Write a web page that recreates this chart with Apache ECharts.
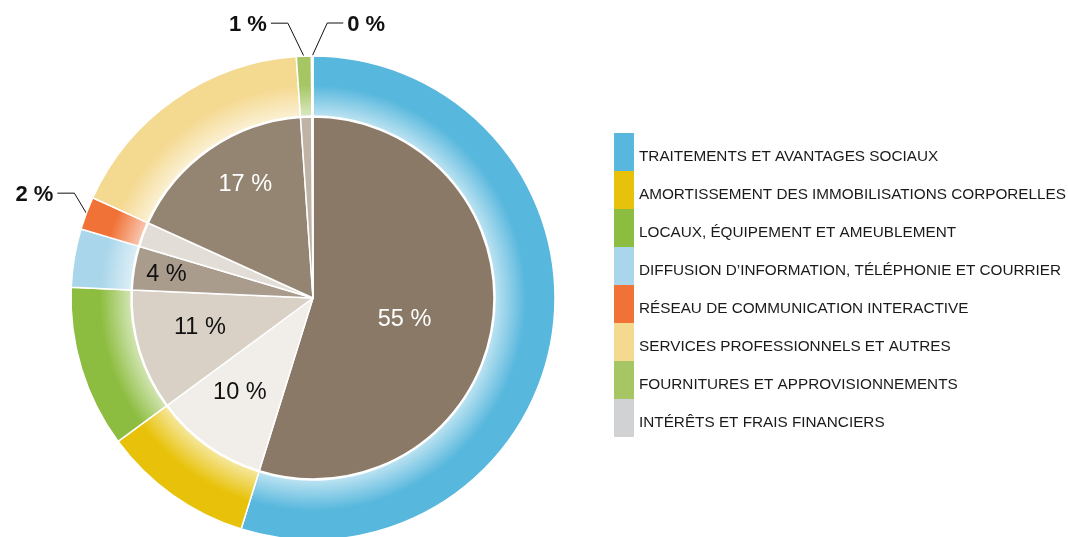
<!DOCTYPE html>
<html>
<head>
<meta charset="utf-8">
<script src="https://cdn.jsdelivr.net/npm/echarts@6/dist/echarts.min.js"></script>
<style>
  html, body { margin: 0; padding: 0; background: #fff; }
  #chart { width: 1068px; height: 537px; }
</style>
</head>
<body>
<div id="chart"></div>
<script>
// categories (legend order = clockwise order from the top)
const categories = [
  'TRAITEMENTS ET AVANTAGES SOCIAUX',
  'AMORTISSEMENT DES IMMOBILISATIONS CORPORELLES',
  'LOCAUX, ÉQUIPEMENT ET AMEUBLEMENT',
  'DIFFUSION D\u2019INFORMATION, TÉLÉPHONIE ET COURRIER',
  'RÉSEAU DE COMMUNICATION INTERACTIVE',
  'SERVICES PROFESSIONNELS ET AUTRES',
  'FOURNITURES ET APPROVISIONNEMENTS',
  'INTÉRÊTS ET FRAIS FINANCIERS'
];
// share of expenses, %
const shares = [54.8, 10.1, 10.8, 3.9, 2.2, 17.1, 1.0, 0.1];

// styles
const ringColors = ['#57b7dd', '#e8c20a', '#8dbd40', '#a9d6ea', '#f07236', '#f4d991', '#a5c663', '#d1d2d4'];
const pieColors = ['#8a7967', '#f1eeea', '#d9d0c6', '#aa9c8d', '#e3ddd7', '#948572', '#bfb3a5', '#cfc8c0'];
const pieLabelColors = ['#fff', '#111', '#111', '#111', '#111', '#fff', '#111', '#111'];
// inner label placement: fraction of radius, and turn (deg) from slice middle
const pieLabelRadius = [0.52, 0.66, 0.645, 0.82, 0.5, 0.73, 0.5, 0.5];
const pieLabelTurn = [4.8, 2.3, 2.5, -0.6, 0, 3.9, 0, 0];

const CX = 313, CY = 298, R_IN = 181, R_OUT = 242;
const FONT = '"Liberation Sans", Arial, Helvetica, sans-serif';

function mixWhite(hex, t) {
  const n = parseInt(hex.slice(1), 16);
  const r = (n >> 16) & 255, g = (n >> 8) & 255, b = n & 255;
  const m = c => Math.round(c + (255 - c) * t);
  return 'rgb(' + m(r) + ',' + m(g) + ',' + m(b) + ')';
}

function ringGradient(c) {
  return {
    type: 'radial', x: CX, y: CY, r: R_OUT, global: true,
    colorStops: [
      { offset: 0, color: mixWhite(c, 0.62) },
      { offset: R_IN / R_OUT, color: mixWhite(c, 0.62) },
      { offset: 0.88, color: c },
      { offset: 1, color: c }
    ]
  };
}

const pctText = v => Math.round(v) + ' %';

// leader line shapes for the small outer labels: [dx1, dy1, dx2]
const leaders = {
  4: [-12, -20, -17],
  6: [-16, -33, -17],
  7: [15, -33, 16]
};

const chart = echarts.init(document.getElementById('chart'));

chart.setOption({
  animation: false,
  legend: {
    orient: 'vertical',
    left: 614,
    top: 133,
    padding: 0,
    itemWidth: 20,
    itemHeight: 38,
    itemGap: 0,
    icon: 'rect',
    selectedMode: false,
    itemStyle: { borderWidth: 0 },
    formatter: '{t|{name}}',
    textStyle: {
      fontFamily: FONT, fontSize: 15.3, color: '#1a1a1a',
      rich: { t: { fontFamily: FONT, fontSize: 15.3, color: '#1a1a1a', padding: [9, 0, 0, 0] } }
    },
    data: categories.map((name, i) => ({ name: name, itemStyle: { color: ringColors[i], borderWidth: 0 } }))
  },
  series: [
    {
      type: 'pie',
      name: 'ring',
      center: [CX, CY],
      radius: [R_IN + 1, R_OUT],
      startAngle: 90,
      avoidLabelOverlap: false,
      emphasis: { disabled: true },
      itemStyle: { borderColor: '#fff', borderWidth: 1.5 },
      label: {
        show: false,
        position: 'outside',
        formatter: p => pctText(p.value),
        fontFamily: FONT,
        fontSize: 22,
        fontWeight: 'bold',
        color: '#111'
      },
      labelLine: { show: true, lineStyle: { color: '#111', width: 1 } },
      labelLayout: function (params) {
        const l = leaders[params.dataIndex];
        if (!l || !params.labelLinePoints) return {};
        const p0 = params.labelLinePoints[0];
        const p1 = [p0[0] + l[0], p0[1] + l[1]];
        const p2 = [p1[0] + l[2], p1[1]];
        const right = l[2] > 0;
        return {
          x: p2[0] + (right ? 4 : -4),
          y: p2[1] + 2,
          align: right ? 'left' : 'right',
          verticalAlign: 'middle',
          labelLinePoints: [p0, p1, p2]
        };
      },
      data: categories.map((name, i) => ({
        name: name,
        value: shares[i],
        itemStyle: { color: ringGradient(ringColors[i]) },
        label: { show: leaders[i] !== undefined },
        labelLine: { show: leaders[i] !== undefined }
      }))
    },
    {
      type: 'pie',
      name: 'core',
      center: [CX, CY],
      radius: [0, R_IN],
      startAngle: 90,
      avoidLabelOverlap: false,
      emphasis: { disabled: true },
      itemStyle: { borderColor: '#fff', borderWidth: 1.5 },
      label: {
        show: true,
        position: 'inside',
        formatter: p => pctText(p.value),
        fontFamily: FONT,
        fontSize: 23.5
      },
      labelLine: { show: false },
      labelLayout: function (params) {
        const r = params.labelRect;
        const mx = r.x + r.width / 2 - CX, my = r.y + r.height / 2 - CY;
        const i = params.dataIndex;
        const theta = Math.atan2(mx, -my) + pieLabelTurn[i] * Math.PI / 180;
        const k = pieLabelRadius[i] * R_IN;
        return {
          x: CX + Math.sin(theta) * k,
          y: CY - Math.cos(theta) * k,
          align: 'center',
          verticalAlign: 'middle'
        };
      },
      data: categories.map((name, i) => ({
        name: name,
        value: shares[i],
        itemStyle: { color: pieColors[i] },
        label: { show: shares[i] >= 3, color: pieLabelColors[i] }
      }))
    }
  ]
});
</script>
</body>
</html>
